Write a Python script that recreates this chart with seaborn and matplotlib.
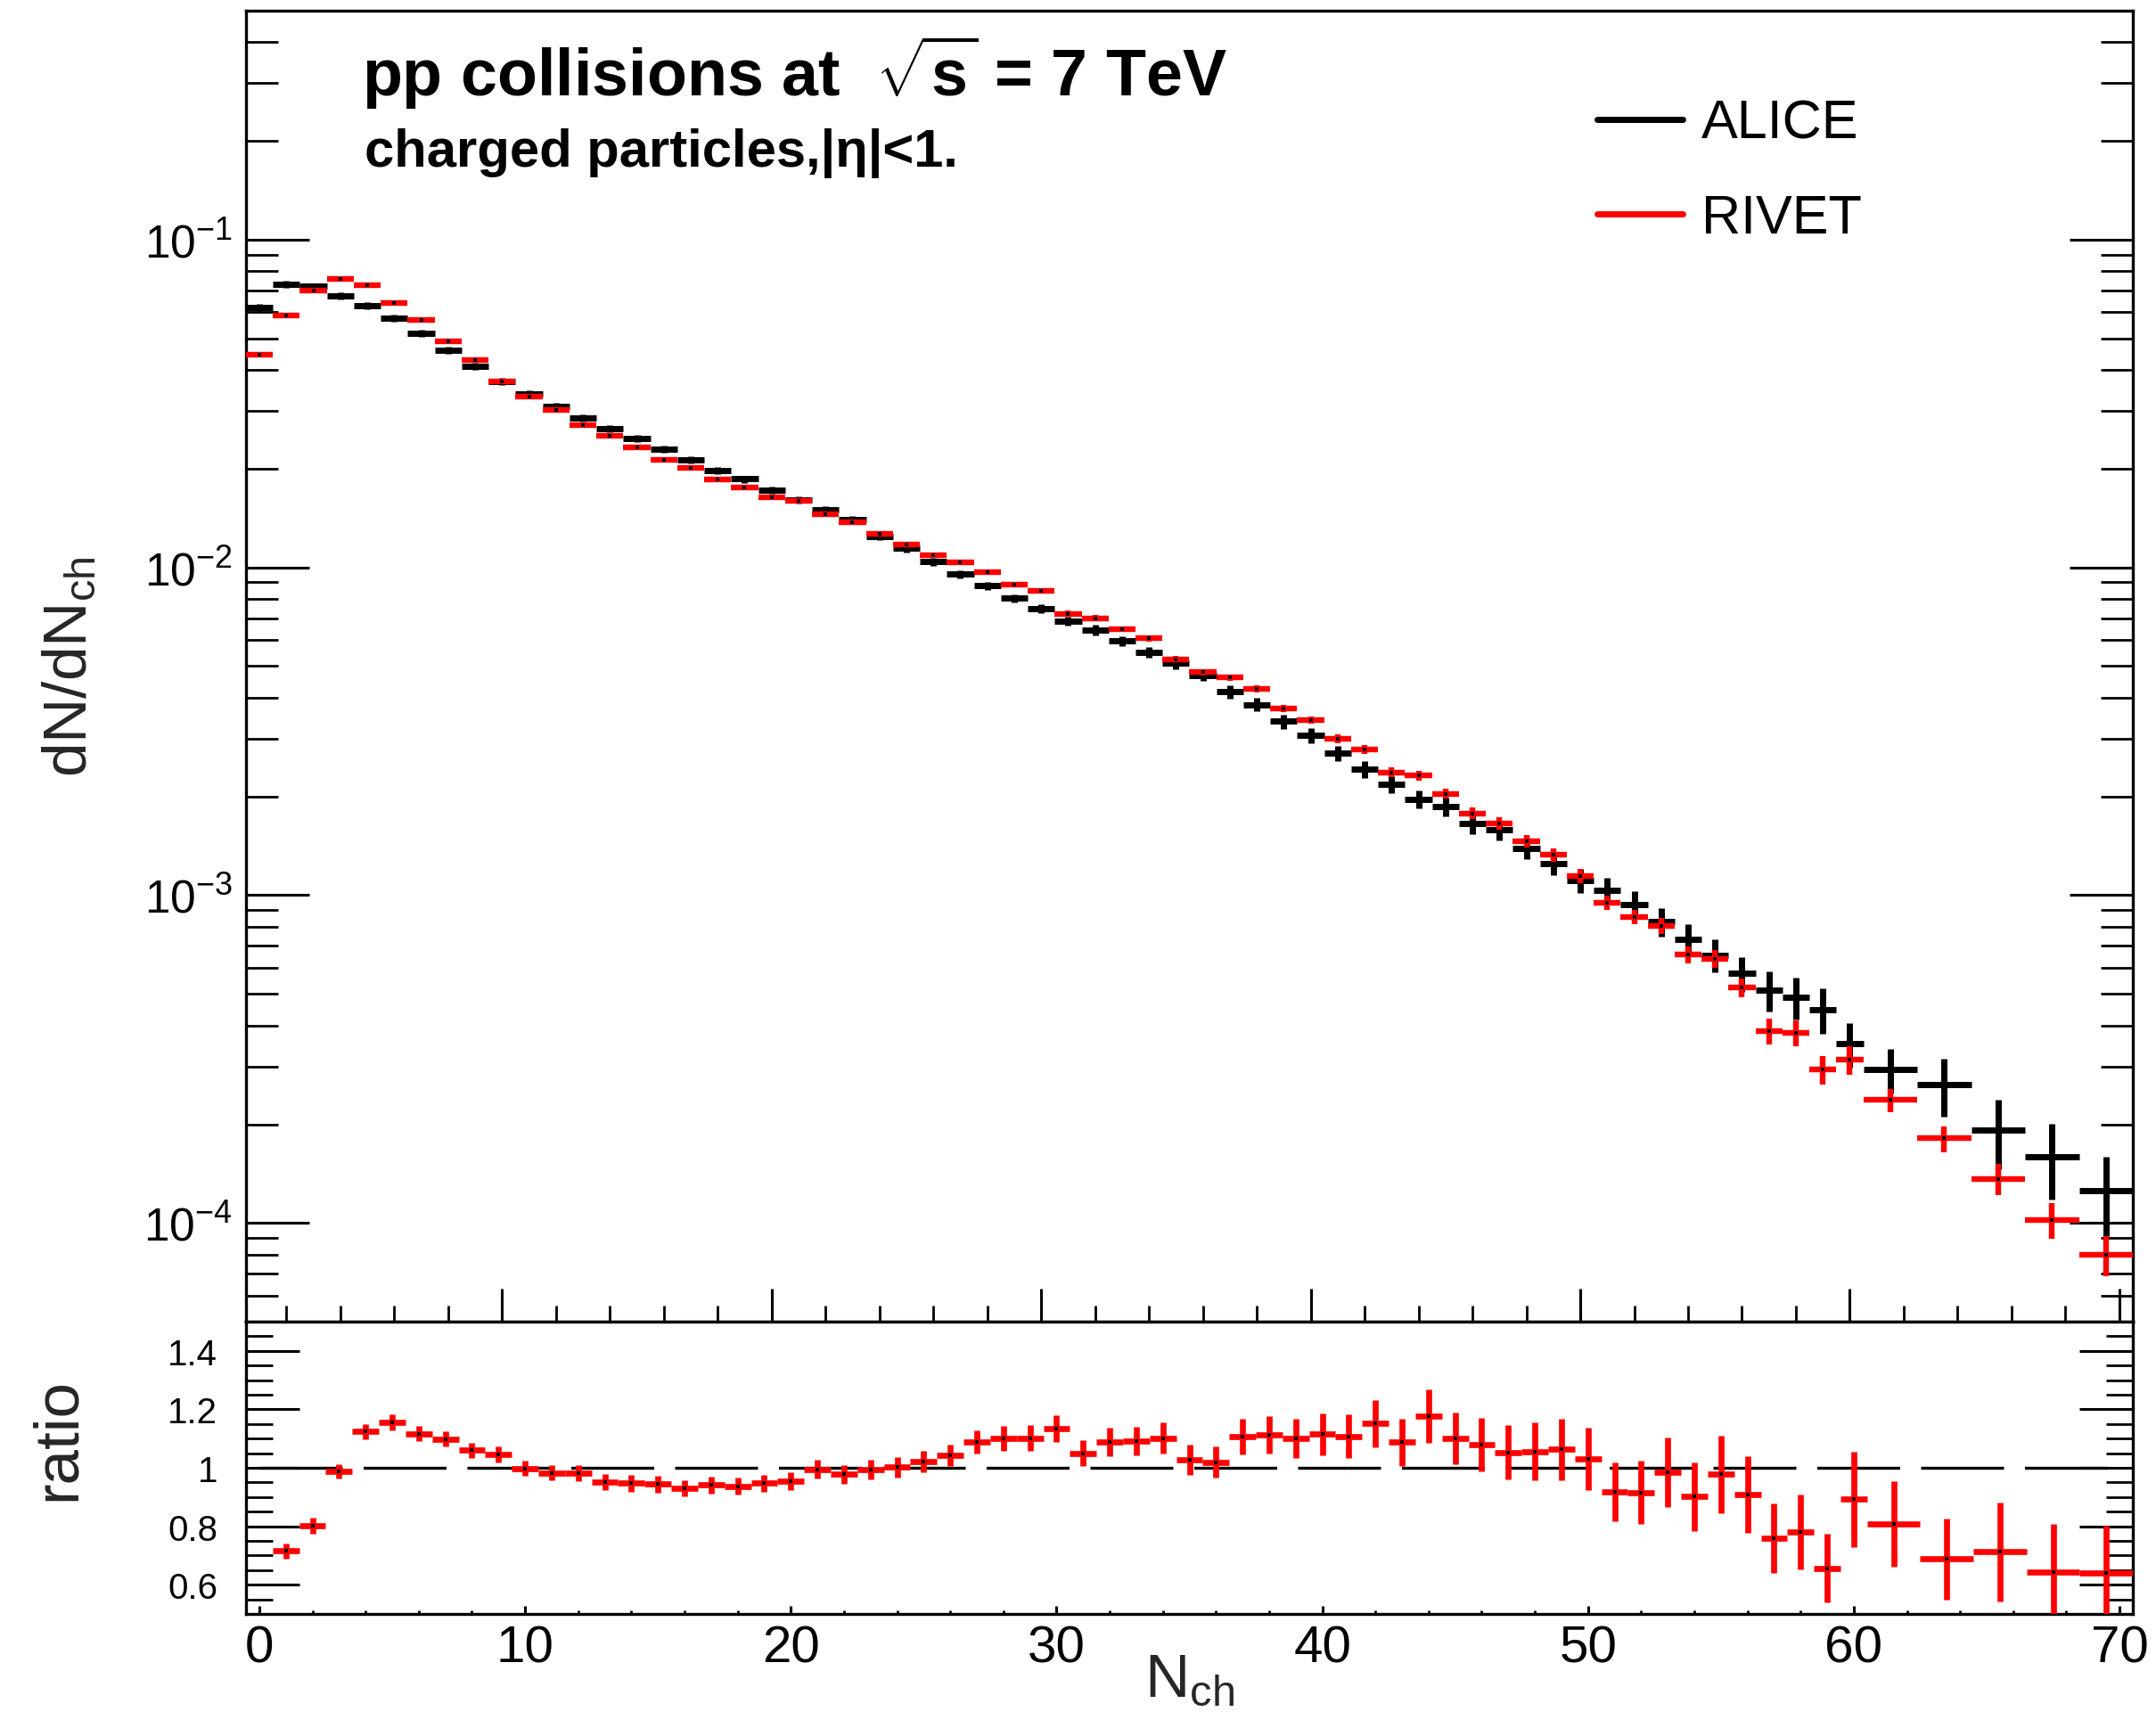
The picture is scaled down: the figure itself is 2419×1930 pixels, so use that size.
import matplotlib
matplotlib.use("Agg")
import numpy as np
import pandas as pd
import matplotlib.pyplot as plt
import seaborn as sns
from matplotlib.ticker import MultipleLocator, LogLocator, NullFormatter, FixedLocator
from matplotlib.lines import Line2D

# ---------------- data ----------------
nch = [1, 2, 3, 4, 5, 6, 7, 8, 9, 10,
       11, 12, 13, 14, 15, 16, 17, 18, 19, 20,
       21, 22, 23, 24, 25, 26, 27, 28, 29, 30,
       31, 32, 33, 34, 35, 36, 37, 38, 39, 40,
       41, 42, 43, 44, 45, 46, 47, 48, 49, 50,
       51, 52, 53, 54, 55, 56, 57, 58, 59, 60,
       61.5, 63.5, 65.5, 67.5, 69.5]
bin_halfwidth = [0.5] * 60 + [1.0, 1.0, 1.0, 1.0, 1.0]

alice = [0.0621, 0.0731, 0.0719, 0.0674, 0.0629, 0.0575, 0.0517, 0.0460, 0.0411, 0.0370,
         0.0339, 0.0310, 0.02858, 0.02656, 0.0247, 0.0229, 0.0213, 0.0198, 0.0186, 0.01721,
         0.01608, 0.01502, 0.01400, 0.01242, 0.01142, 0.01042, 0.00952, 0.00879, 0.00804, 0.00747,
         0.00685, 0.00644, 0.00596, 0.00552, 0.00510, 0.00469, 0.00417, 0.00381, 0.00339, 0.00307,
         0.00271, 0.00242, 0.00218, 0.00196, 0.00186, 0.00165, 0.00158, 0.001389, 0.001252, 0.001110,
         0.001036, 0.000939, 0.000829, 0.000735, 0.000657, 0.000577, 0.000513, 0.000489, 0.000448, 0.000353,
         0.000294, 0.000264, 0.000192, 0.000159, 0.0001251]
alice_relerr = [0.025, 0.025, 0.025, 0.025, 0.025, 0.025, 0.025, 0.025, 0.025, 0.025,
                0.025, 0.025, 0.025, 0.025, 0.025, 0.025, 0.025, 0.025, 0.025, 0.025,
                0.025, 0.025, 0.026, 0.027, 0.028, 0.028, 0.029, 0.029, 0.030, 0.031,
                0.033, 0.035, 0.036, 0.038, 0.040, 0.042, 0.045, 0.047, 0.050, 0.052,
                0.055, 0.058, 0.060, 0.063, 0.065, 0.067, 0.070, 0.075, 0.080, 0.085,
                0.093, 0.097, 0.100, 0.110, 0.115, 0.120, 0.138, 0.147, 0.158, 0.155,
                0.155, 0.200, 0.240, 0.260, 0.270]

rivet = [0.0445, 0.0586, 0.0700, 0.0757, 0.0728, 0.0641, 0.0567, 0.0488, 0.0430, 0.0369,
         0.0331, 0.0302, 0.0272, 0.0252, 0.0233, 0.0213, 0.0201, 0.01855, 0.01757, 0.0164,
         0.0160, 0.01455, 0.01370, 0.01263, 0.01175, 0.01086, 0.01035, 0.00968, 0.00888, 0.00846,
         0.00722, 0.00700, 0.00648, 0.00608, 0.00524, 0.00479, 0.00461, 0.00425, 0.00372, 0.00342,
         0.00300, 0.00279, 0.00237, 0.00232, 0.00204, 0.001777, 0.001658, 0.001463, 0.001329, 0.001146,
         0.000950, 0.000859, 0.000807, 0.000660, 0.000640, 0.000523, 0.000386, 0.000380, 0.000294, 0.000315,
         0.000237, 0.000181, 0.0001363, 0.0001022, 0.0000799]
rivet_relerr = [0.010, 0.010, 0.010, 0.010, 0.010, 0.010, 0.010, 0.010, 0.010, 0.010,
                0.010, 0.010, 0.010, 0.010, 0.010, 0.010, 0.010, 0.010, 0.010, 0.010,
                0.012, 0.012, 0.013, 0.013, 0.014, 0.014, 0.015, 0.015, 0.016, 0.016,
                0.020, 0.020, 0.021, 0.022, 0.022, 0.023, 0.024, 0.025, 0.025, 0.026,
                0.030, 0.031, 0.033, 0.034, 0.036, 0.040, 0.042, 0.044, 0.046, 0.048,
                0.050, 0.050, 0.055, 0.060, 0.060, 0.067, 0.090, 0.090, 0.100, 0.100,
                0.080, 0.090, 0.110, 0.127, 0.140]

ratio = [0.716, 0.802, 0.987, 1.124, 1.155, 1.117, 1.099, 1.060, 1.046, 0.998,
         0.982, 0.982, 0.952, 0.947, 0.944, 0.929, 0.941, 0.937, 0.947, 0.954,
         0.995, 0.978, 0.994, 1.002, 1.021, 1.042, 1.089, 1.100, 1.102, 1.134,
         1.050, 1.088, 1.091, 1.101, 1.027, 1.019, 1.108, 1.113, 1.100, 1.115,
         1.108, 1.151, 1.087, 1.177, 1.100, 1.080, 1.053, 1.056, 1.063, 1.030,
         0.918, 0.916, 0.985, 0.901, 0.978, 0.908, 0.759, 0.781, 0.657, 0.892,
         0.808, 0.688, 0.712, 0.644, 0.641]
ratio_err = [0.026, 0.027, 0.025, 0.026, 0.028, 0.026, 0.027, 0.026, 0.027, 0.025,
             0.026, 0.027, 0.027, 0.028, 0.028, 0.028, 0.028, 0.029, 0.029, 0.030,
             0.032, 0.032, 0.033, 0.035, 0.036, 0.036, 0.040, 0.042, 0.043, 0.045,
             0.043, 0.048, 0.049, 0.053, 0.051, 0.054, 0.061, 0.064, 0.067, 0.071,
             0.075, 0.082, 0.081, 0.092, 0.089, 0.092, 0.094, 0.098, 0.105, 0.107,
             0.101, 0.107, 0.120, 0.118, 0.133, 0.132, 0.118, 0.128, 0.117, 0.164,
             0.145, 0.138, 0.168, 0.165, 0.160]

series_names = ["ALICE", "RIVET"]
series_colors = ["#000000", "#ff0000"]
title_text = r"pp collisions at  $\sqrt{\mathbf{s}}$ = 7 TeV"
subtitle_text = "charged particles,|η|<1."
ylabel_top = r"dN/dN$_{\mathrm{ch}}$"
ylabel_ratio = "ratio"
xlabel_text = r"N$_{\mathrm{ch}}$"
ratio_ticks = [0.6, 0.8, 1.0, 1.2, 1.4]
ratio_ticklabels = ["0.6", "0.8", "1", "1.2", "1.4"]
ref_level = 1.0
ref_x = (0, 70)

df = pd.DataFrame({
    "nch": nch, "hw": bin_halfwidth,
    "alice": alice, "alice_err": np.array(alice) * np.array(alice_relerr),
    "rivet": rivet, "rivet_err": np.array(rivet) * np.array(rivet_relerr),
    "ratio": ratio, "ratio_err": ratio_err,
})

# ---------------- style ----------------
sns.set_theme(style="ticks")
plt.rcParams.update({
    "mathtext.fontset": "custom",
    "mathtext.rm": "Liberation Sans",
    "mathtext.it": "Liberation Sans:italic",
    "mathtext.bf": "Liberation Sans:bold",
    "axes.linewidth": 2.4,
    "axes.edgecolor": "black",
    "xtick.color": "black",
    "ytick.color": "black",
    "text.color": "black",
})
plt.rcParams["font.family"] = ["Liberation Sans", "DejaVu Sans"]

W, H, DPI = 2419, 1931, 100
fig = plt.figure(figsize=(W / DPI, H / DPI), dpi=DPI)
L, R = 276, 2393
TOP, MID, BOT = 12.7, 1484, 1812
ax = fig.add_axes([L / W, 1 - MID / H, (R - L) / W, (MID - TOP) / H])
axr = fig.add_axes([L / W, 1 - BOT / H, (R - L) / W, (BOT - MID) / H])

# ---------------- top panel ----------------
ax.errorbar(df["nch"], df["alice"], xerr=df["hw"], yerr=df["alice_err"], fmt="none",
            ecolor=series_colors[0], elinewidth=5.0, capsize=0, zorder=3)
ax.errorbar(df["nch"], df["rivet"], xerr=df["hw"], yerr=df["rivet_err"], fmt="none",
            ecolor=series_colors[1], elinewidth=4.6, capsize=0, zorder=4)
sns.scatterplot(data=df, x="nch", y="rivet", ax=ax, marker="s", s=9, color="black",
                linewidth=0, zorder=5, legend=False)
ax.set_yscale("log")
ax.set_xlim(0.5, 70.5)
ax.set_ylim(5e-5, 0.5)
ax.yaxis.set_major_locator(LogLocator(base=10, numticks=10))
ax.yaxis.set_minor_locator(LogLocator(base=10, subs=np.arange(2, 10), numticks=20))
ax.yaxis.set_minor_formatter(NullFormatter())
ax.xaxis.set_major_locator(MultipleLocator(10))
ax.xaxis.set_minor_locator(MultipleLocator(2))
ax.tick_params(axis="y", which="major", direction="in", length=51, width=2.2,
               left=True, right=True, labelsize=37, pad=11)
ax.tick_params(axis="y", which="minor", direction="in", length=26, width=2.0,
               left=True, right=True)
ax.tick_params(axis="x", which="major", direction="in", length=27, width=2.2,
               bottom=True, top=False, labelbottom=False)
ax.tick_params(axis="x", which="minor", direction="in", length=13, width=2.0,
               bottom=True, top=False)
ax.set_xlabel("")
ax.set_ylabel(ylabel_top, fontsize=50, va="center")
ax.yaxis.set_label_coords(-0.093, 0.5)

handles = [Line2D([], [], color=c, lw=5) for c in series_colors]
ax.legend(handles, series_names, loc="upper left", bbox_to_anchor=(1792 / W, 1 - 112 / H),
          bbox_transform=fig.transFigure, frameon=False, fontsize=44, handlelength=1.57,
          handletextpad=0.34, labelspacing=0.80, borderpad=0, borderaxespad=0)

fig.text(406 / W, 1 - 108 / H, title_text, fontsize=53, fontweight="bold",
         ha="left", va="baseline")
fig.text(409 / W, 1 - 187 / H, subtitle_text, fontsize=43, fontweight="bold",
         ha="left", va="baseline")

# ---------------- ratio panel ----------------
axr.hlines(ref_level, ref_x[0], ref_x[1], colors="black", linewidth=2.4,
           linestyles=(0, (27.9, 7.05)), zorder=2)
axr.errorbar(df["nch"], df["ratio"], xerr=df["hw"], yerr=df["ratio_err"], fmt="none",
             ecolor=series_colors[1], elinewidth=4.8, capsize=0, zorder=4)
sns.scatterplot(data=df, x="nch", y="ratio", ax=axr, marker="s", s=9, color="black",
                linewidth=0, zorder=5, legend=False)
axr.set_xlim(-0.5, 70.5)
axr.set_ylim(0.5, 1.5)
axr.yaxis.set_major_locator(FixedLocator(ratio_ticks))
axr.set_yticklabels(ratio_ticklabels)
axr.yaxis.set_minor_locator(MultipleLocator(0.05))
axr.xaxis.set_major_locator(MultipleLocator(10))
axr.xaxis.set_minor_locator(MultipleLocator(2))
axr.tick_params(axis="y", which="major", direction="in", length=43, width=2.2,
                left=True, right=True, labelsize=29, pad=23)
axr.tick_params(axis="y", which="minor", direction="in", length=21.6, width=2.0,
                left=True, right=True)
axr.tick_params(axis="x", which="major", direction="in", length=6.5, width=2.2,
                bottom=True, top=False, labelsize=42, pad=8)
axr.tick_params(axis="x", which="minor", direction="in", length=3, width=2.0,
                bottom=True, top=False)
axr.set_ylabel(ylabel_ratio, fontsize=51, va="center")
axr.yaxis.set_label_coords(-0.0995, 0.6)
axr.set_xlabel(xlabel_text, fontsize=50, va="center")
axr.xaxis.set_label_coords(0.5, -0.226)

for a in (ax, axr):
    for s in a.spines.values():
        s.set_visible(True)
        s.set_linewidth(2.4)
        s.set_color("black")

fig.savefig("out.png", dpi=DPI)
